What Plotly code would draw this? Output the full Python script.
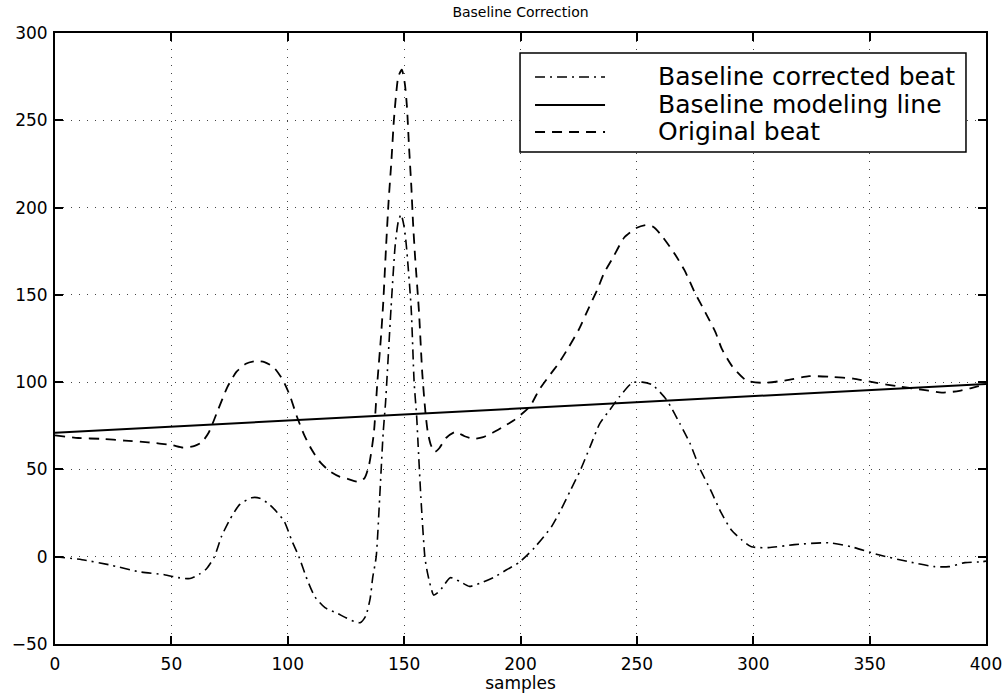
import plotly.graph_objects as go

# Original ECG beat (sample index, amplitude)
samples_orig = [0, 10, 20, 30, 40, 50, 55, 60, 63, 66, 70, 74, 78, 82, 86, 90, 94, 98,
                101, 104, 107, 110, 114, 118, 122, 126, 130, 133, 135, 137, 138.5, 140,
                141, 142.3, 143.3, 144.5, 145.6, 146.5, 147.5, 149, 150.3, 151.2, 152.1,
                153.1, 153.8, 154.7, 156.4, 157.8, 159.2, 160.2, 161.5, 163.2, 165, 168,
                172, 176, 180, 184, 188, 192, 197, 204, 208, 212, 216.5, 220.7, 225, 229,
                233, 236, 240, 244.5, 250, 254, 257, 260, 266, 270.5, 275, 279.4, 283.8,
                286.5, 291, 297, 304, 314, 324, 334, 343, 353, 363, 373, 381, 388.6, 396, 400]
original_beat = [69.5, 68, 67.5, 66.5, 65.5, 64, 62.5, 63.5, 65.5, 71, 84, 97, 106, 110.5,
                 112, 111.5, 108.5, 101, 92, 80, 70, 62, 54, 49, 46, 44.5, 43, 45, 53, 71,
                 100, 125, 145, 179, 203, 226, 250, 264, 275, 279, 271, 258, 235, 212, 192,
                 172, 140, 105, 82, 71, 64, 60, 62, 68, 71.5, 69, 67.5, 68.5, 71, 74, 78,
                 86, 95.6, 103, 111, 120, 130, 141.5, 153, 162.7, 172, 182.7, 188.4, 190,
                 189, 185, 174, 164, 151, 140, 128.5, 119, 109, 101, 99.6, 101, 103.4,
                 103, 102, 99.6, 97.4, 95.6, 94, 95, 97.4, 98.5]

# Beat after subtracting the baseline model
samples_corr = [0, 11.6, 23.2, 36, 47, 53, 58, 62, 65, 68.5, 71.5, 75, 79.3, 84.5, 88, 92,
                95.2, 98.6, 101.6, 104.8, 108.3, 111.7, 116, 120.7, 125, 128.5, 131.1,
                133.5, 135.4, 136.5, 138, 139.5, 141, 142, 142.8, 144.4, 146.2, 147.5,
                148.7, 150, 150.9, 153, 154.3, 155.4, 155.9, 157.2, 158.9, 159.7, 161,
                162.7, 164.5, 166.4, 169.8, 173.7, 178, 183, 189, 194, 199.3, 206, 213.3,
                217.4, 221.6, 225.8, 229.9, 234.1, 238.3, 242.5, 248, 252.3, 256.6, 262.7,
                268.4, 272.8, 277.3, 281.6, 286.2, 290.5, 295, 299.2, 306.6, 317.7, 332.3,
                342.1, 353.9, 366.9, 378, 384, 391, 398.3, 400]
corrected_beat = [0, -1.7, -4.6, -8.6, -10.3, -12, -12.5, -10, -7, 0, 11.5, 21, 29.8, 33.8,
                  33.5, 30, 25.8, 20, 9.7, 0, -13, -23, -29.2, -32, -35, -37, -37.8, -34,
                  -24, -12, 0, 34, 71, 88, 106, 143, 179, 192, 196, 189, 179, 143, 100, 80,
                  67, 34, 0, -7, -15, -22, -20.5, -17.7, -12, -14, -17, -15, -11.5, -7.5,
                  -3.4, 5.2, 17.2, 27, 38.4, 49.8, 63, 76.4, 84, 91.6, 99.6, 100, 98.5, 90,
                  76.4, 65, 49.8, 38.4, 25.2, 15.5, 9.7, 5.7, 5.2, 6.9, 8, 5.7, 1.1, -2.9,
                  -5.7, -5.7, -3.4, -2.9, -2.5]

# Linear baseline model end points
baseline_x = [0, 400]
baseline_y = [71, 99]

x_ticks = [0, 50, 100, 150, 200, 250, 300, 350, 400]
y_ticks = [-50, 0, 50, 100, 150, 200, 250, 300]

FONT = "DejaVu Sans, Liberation Sans, Arial, sans-serif"

# (name, dash style, width) for each curve, shared by traces and legend keys
series_styles = [
    ("Baseline corrected beat", "10px,5px,2px,5px", 1.6),
    ("Baseline modeling line", "solid", 2.0),
    ("Original beat", "10px,7px", 1.8),
]

fig = go.Figure()
fig.add_trace(go.Scatter(
    x=samples_corr, y=corrected_beat, mode="lines", name=series_styles[0][0],
    line=dict(color="black", width=series_styles[0][2], dash=series_styles[0][1],
              shape="spline", smoothing=0.6)))
fig.add_trace(go.Scatter(
    x=baseline_x, y=baseline_y, mode="lines", name=series_styles[1][0],
    line=dict(color="black", width=series_styles[1][2], dash=series_styles[1][1])))
fig.add_trace(go.Scatter(
    x=samples_orig, y=original_beat, mode="lines", name=series_styles[2][0],
    line=dict(color="black", width=series_styles[2][2], dash=series_styles[2][1],
              shape="spline", smoothing=0.6)))

axis_common = dict(
    showline=True, linecolor="black", linewidth=2, mirror="ticks",
    ticks="inside", ticklen=8, tickwidth=1.5, tickcolor="black",
    showgrid=True, gridcolor="#444444", gridwidth=1, griddash="1px,7px",
    zeroline=False, tickfont=dict(family=FONT, size=17, color="black"),
    ticklabeloverflow="allow", automargin=False,
)

# Boxed legend in the upper right of the axes (paper coordinates)
legend_box = dict(x0=0.4995, x1=0.9785, y0=0.8052, y1=0.9673)
key_x = (0.5156, 0.5908)
label_x = 0.6455
row_y = [0.928, 0.8822, 0.838]

shapes = [dict(type="rect", xref="paper", yref="paper", **legend_box,
               line=dict(color="black", width=1.5), fillcolor="white", layer="above")]
annotations = []
for (name, dash, width), yy in zip(series_styles, row_y):
    shapes.append(dict(type="line", xref="paper", yref="paper",
                       x0=key_x[0], x1=key_x[1], y0=yy, y1=yy,
                       line=dict(color="black", width=width, dash=dash)))
    annotations.append(dict(text=name, xref="paper", yref="paper", x=label_x, y=yy,
                            xanchor="left", yanchor="middle", showarrow=False,
                            font=dict(family=FONT, size=25, color="black")))

fig.update_layout(
    width=1002, height=693,
    margin=dict(l=55, r=16, t=33, b=49, autoexpand=False),
    paper_bgcolor="white", plot_bgcolor="white",
    font=dict(family=FONT, color="black"),
    title=dict(text="Baseline Correction", x=0.5, xref="paper",
               y=1 - 12 / 693, yref="container", yanchor="middle",
               font=dict(family=FONT, size=14, color="black")),
    xaxis=dict(range=[0, 400], tickvals=x_ticks, ticklabelstandoff=4, **axis_common,
               title=dict(text="samples", standoff=6,
                          font=dict(family=FONT, size=17, color="black"))),
    yaxis=dict(range=[-50, 300], tickvals=y_ticks, ticklabelstandoff=2, **axis_common),
    shapes=shapes,
    annotations=annotations,
    showlegend=False,
)

fig.write_html("out.html")
